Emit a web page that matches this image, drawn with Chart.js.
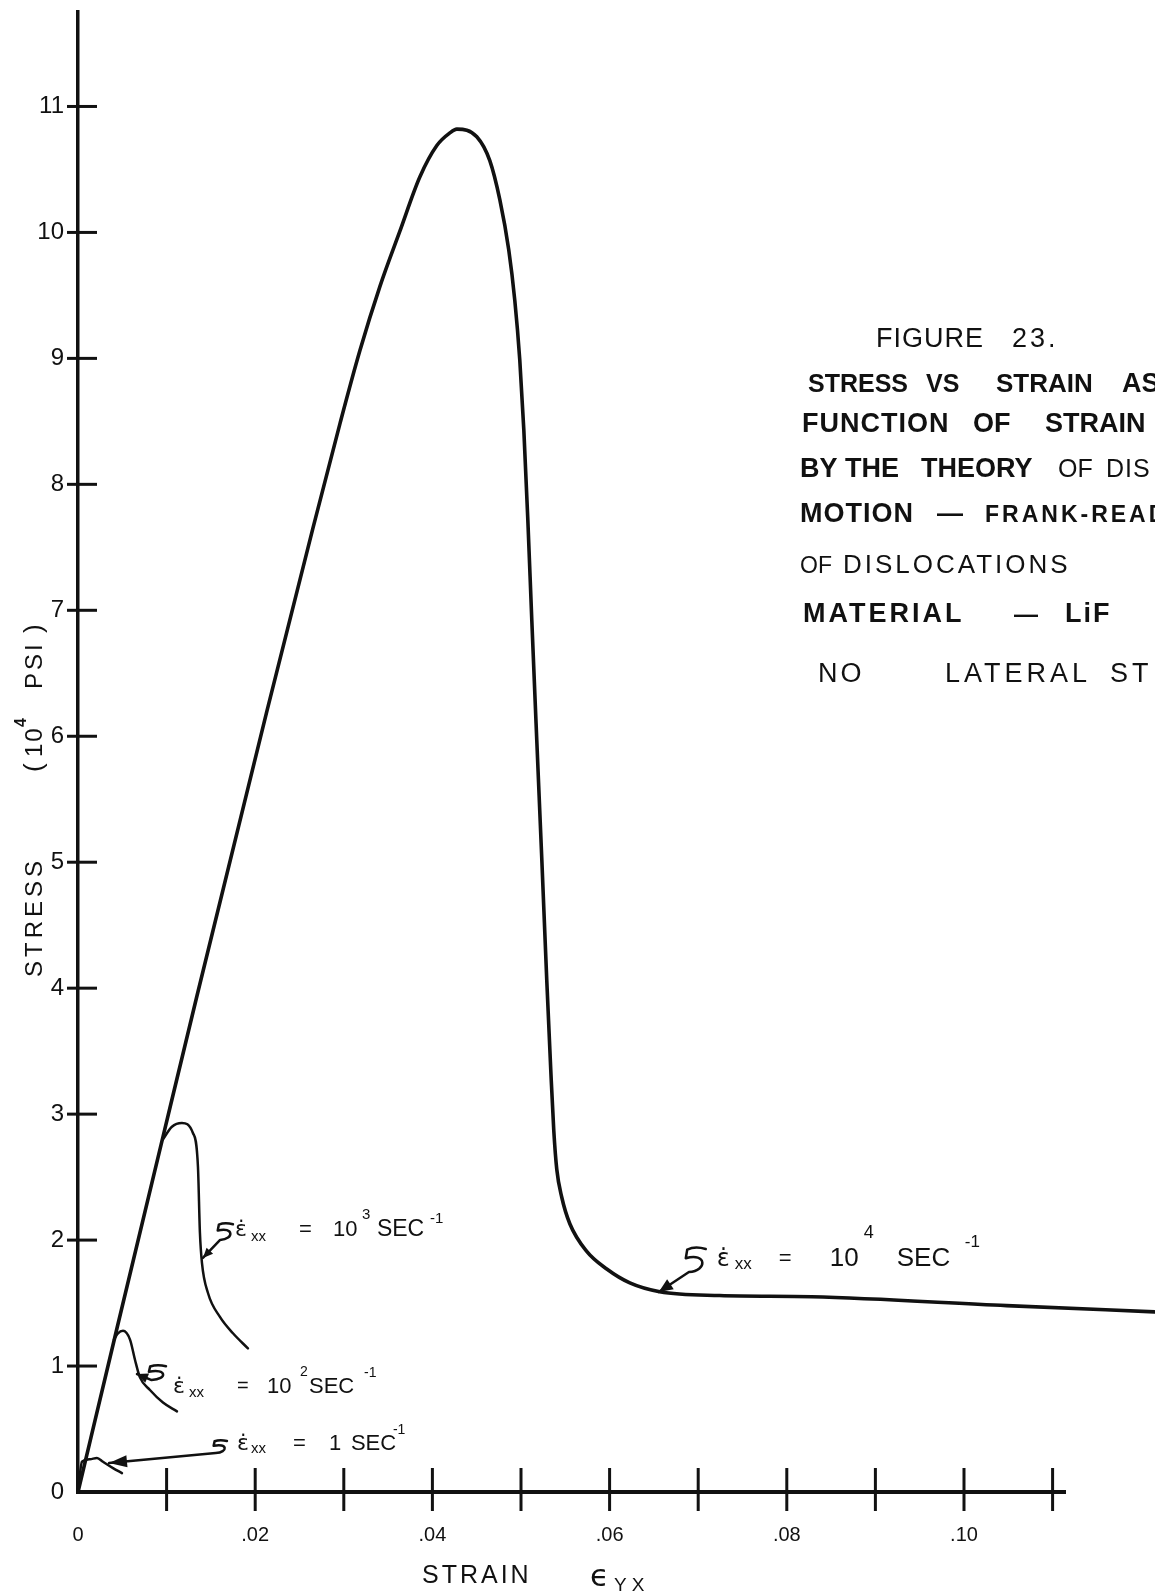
<!DOCTYPE html>
<html>
<head>
<meta charset="utf-8">
<title>Stress vs strain - LiF</title>
<script src="https://cdn.jsdelivr.net/npm/chart.js@4.4.1/dist/chart.umd.min.js"></script>
<style>
  html, body { margin: 0; padding: 0; background: #ffffff; }
  canvas { display: block; }
</style>
</head>
<body>
<canvas id="chart" width="1155" height="1595"></canvas>
<script>
// Strain (in/in) and stress (10^4 psi) along each strain-rate curve
const strainRate1e4 = [0, 0.00440, 0.00959, 0.01343, 0.02132, 0.02651, 0.02956, 0.03181, 0.03407, 0.03633,
  0.03858, 0.04050, 0.04197, 0.04276, 0.04501, 0.04648, 0.04761, 0.04862, 0.04930, 0.04986,
  0.05032, 0.05077, 0.05122, 0.05178, 0.05235, 0.05291, 0.05336, 0.05370, 0.05404, 0.05460,
  0.05551, 0.05742, 0.05968, 0.06228, 0.06566, 0.07243, 0.08281, 0.10481, 0.12150];
const stressRate1e4 = [0, 1.30, 2.82, 3.94, 6.20, 7.65, 8.48, 9.06, 9.57, 10.01,
  10.44, 10.69, 10.79, 10.82, 10.76, 10.57, 10.26, 9.86, 9.46, 8.99,
  8.43, 7.72, 6.92, 5.97, 5.02, 4.06, 3.35, 2.87, 2.56, 2.34,
  2.13, 1.91, 1.77, 1.66, 1.59, 1.56, 1.55, 1.48, 1.43];

const strainRate1e3 = [0.00959, 0.01060, 0.01173, 0.01297, 0.01354, 0.01376, 0.01399, 0.01467, 0.01602, 0.01749, 0.01918];
const stressRate1e3 = [2.80, 2.90, 2.93, 2.85, 2.58, 2.06, 1.82, 1.58, 1.39, 1.26, 1.14];

const strainRate1e2 = [0.00406, 0.00451, 0.00508, 0.00587, 0.00643, 0.00699, 0.00812, 0.00959, 0.01117];
const stressRate1e2 = [1.21, 1.26, 1.28, 1.21, 1.05, 0.91, 0.81, 0.71, 0.64];

const strainRate1 = [0, 0.00045, 0.00135, 0.00214, 0.00282, 0.00395, 0.00496];
const stressRate1 = [0, 0.24, 0.26, 0.27, 0.24, 0.19, 0.15];

// Tick labels
const strainTickLabels = ['0', '', '.02', '', '.04', '', '.06', '', '.08', '', '.10', ''];
const stressTickLabels = ['0', '1', '2', '3', '4', '5', '6', '7', '8', '9', '10', '11'];

const INK = '#111111';
const LATIN = '"Liberation Sans", "DejaVu Sans", sans-serif';
const GREEK = '"DejaVu Sans", "Liberation Sans", sans-serif';

const toPoints = (xs, ys) => xs.map((x, i) => ({ x, y: ys[i] }));
const curve = (xs, ys, width) => ({
  data: toPoints(xs, ys),
  showLine: true,
  borderColor: INK,
  borderWidth: width,
  borderCapStyle: 'round',
  borderJoinStyle: 'round',
  pointRadius: 0,
  pointHoverRadius: 0,
  fill: false,
  cubicInterpolationMode: 'monotone',
  clip: false
});

// Rate labels: anchor in (strain, stress), pieces as [text, dx, dy, size, greek?]
const rateLabels = [
  { at: [0.07209, 1.794], pieces: [
    ['\u03B5\u0307', 0, 0, 24, true], ['xx', 18, 3, 17], ['=', 62, -1, 22],
    ['10', 113, 0, 26], ['4', 147, -28, 18], ['SEC', 180, 0, 26], ['-1', 248, -19, 17]] },
  { at: [0.01771, 2.032], pieces: [
    ['\u03B5\u0307', 0, 0, 22, true], ['xx', 16, 5, 15], ['=', 64, 0, 22],
    ['10', 98, 0, 22], ['3', 127, -17, 15], ['SEC', 142, 0, 23], ['-1', 195, -13, 15]] },
  { at: [0.01072, 0.786], pieces: [
    ['\u03B5\u0307', 0, 0, 22, true], ['xx', 16, 4, 15], ['=', 64, -1, 20],
    ['10', 94, 0, 22], ['2', 127, -17, 14], ['SEC', 136, 0, 22], ['-1', 191, -16, 14]] },
  { at: [0.01794, 0.333], pieces: [
    ['\u03B5\u0307', 0, 0, 22, true], ['xx', 14, 3, 15], ['=', 56, 0, 22],
    ['1', 92, 0, 22], ['SEC', 114, 0, 22], ['-1', 156, -16, 14]] }
];

// Curl leaders: curl box top-left (strain, stress), size in px, arrow tip (strain, stress)
const leaders = [
  { box: [0.06848, 1.945], w: 21, h: 25, tip: [0.06555, 1.588], head: [14, 6] },
  { box: [0.01568, 2.136], w: 16, h: 17, tip: [0.01410, 1.858], head: [10, 4.5] },
  { box: [0.00790, 1.008], w: 18, h: 15, tip: [0.00666, 0.937], head: [11, 5] },
  { box: [0.01523, 0.413], w: 14, h: 13, tip: [0.00350, 0.230], head: [18, 6] }
];

// Caption block: [text, x, baseline, size, weight, letter spacing]
const caption = [
  ['FIGURE', 876, 347, 27, 'normal', 1], ['23.', 1012, 347, 27, 'normal', 3],
  ['STRESS', 808, 392, 25, 'bold', 0], ['VS', 926, 392, 25, 'bold', 0],
  ['STRAIN', 996, 392, 26, 'bold', 0], ['AS', 1122, 392, 27, 'bold', 0],
  ['FUNCTION', 802, 432, 27, 'bold', 1], ['OF', 973, 432, 27, 'bold', 0], ['STRAIN', 1045, 432, 27, 'bold', 0],
  ['BY THE', 800, 477, 27, 'bold', 0], ['THEORY', 921, 477, 27, 'bold', 0],
  ['OF', 1058, 477, 25, 'normal', 0], ['DIS', 1106, 477, 25, 'normal', 1],
  ['MOTION', 800, 522, 27, 'bold', 1], ['\u2014', 937, 522, 26, 'bold', 0],
  ['FRANK-READ', 985, 522, 23, 'bold', 3],
  ['OF', 800, 573, 23, 'normal', 0], ['DISLOCATIONS', 843, 573, 26, 'normal', 3],
  ['MATERIAL', 803, 622, 27, 'bold', 3], ['\u2014', 1014, 622, 24, 'bold', 0], ['LiF', 1065, 622, 27, 'bold', 2],
  ['NO', 818, 682, 27, 'normal', 3], ['LATERAL', 945, 682, 27, 'normal', 4], ['ST', 1110, 682, 27, 'normal', 4]
];

function setFont(ctx, size, weight, family, spacing) {
  ctx.font = `${weight || 'normal'} ${size}px ${family || LATIN}`;
  ctx.letterSpacing = `${spacing || 0}px`;
}

function drawLeader(ctx, x, y, w, h, tx, ty, head) {
  const ex = x + w * 0.2, ey = y + h;
  ctx.beginPath();
  ctx.moveTo(x + w, y + h * 0.08);
  ctx.quadraticCurveTo(x + w * 0.5, y - h * 0.05, x + w * 0.12, y + h * 0.1);
  ctx.lineTo(x + w * 0.05, y + h * 0.45);
  ctx.bezierCurveTo(x + w * 1.05, y + h * 0.2, x + w * 1.1, y + h * 0.95, ex, ey);
  ctx.lineTo(tx, ty);
  ctx.stroke();
  const ang = Math.atan2(ty - ey, tx - ex);
  const [L, W] = head;
  ctx.beginPath();
  ctx.moveTo(tx, ty);
  ctx.lineTo(tx - L * Math.cos(ang) + W * Math.sin(ang), ty - L * Math.sin(ang) - W * Math.cos(ang));
  ctx.lineTo(tx - L * Math.cos(ang) - W * Math.sin(ang), ty - L * Math.sin(ang) + W * Math.cos(ang));
  ctx.closePath();
  ctx.fill();
}

// Tick marks crossing both axes
const crossTicks = {
  id: 'crossTicks',
  afterDraw(chart) {
    const { ctx, scales: { x, y } } = chart;
    const y0 = y.getPixelForValue(0), x0 = x.getPixelForValue(0);
    ctx.save();
    ctx.strokeStyle = INK;
    ctx.lineWidth = 3;
    x.ticks.forEach(t => {
      if (t.value <= 0) return;
      const p = x.getPixelForValue(t.value);
      ctx.beginPath(); ctx.moveTo(p, y0 - 24); ctx.lineTo(p, y0 + 19); ctx.stroke();
    });
    y.ticks.forEach(t => {
      if (t.value <= 0) return;
      const p = y.getPixelForValue(t.value);
      ctx.beginPath(); ctx.moveTo(x0 - 11, p); ctx.lineTo(x0 + 19, p); ctx.stroke();
    });
    ctx.restore();
  }
};

// Axis titles, rate labels with leaders, and the caption block
const annotations = {
  id: 'annotations',
  afterDraw(chart) {
    const { ctx, scales: { x, y } } = chart;
    ctx.save();
    ctx.fillStyle = INK;
    ctx.strokeStyle = INK;
    ctx.textBaseline = 'alphabetic';
    ctx.textAlign = 'left';

    // vertical axis title
    ctx.save();
    ctx.translate(42, 977);
    ctx.rotate(-Math.PI / 2);
    setFont(ctx, 24, 'normal', LATIN, 4); ctx.fillText('STRESS', 0, 0);
    setFont(ctx, 26, 'normal', LATIN, 0); ctx.fillText('(', 205, 0);
    setFont(ctx, 24, 'normal', LATIN, 2); ctx.fillText('10', 220, 0);
    setFont(ctx, 16, 'bold', LATIN, 0); ctx.fillText('4', 250, -16);
    setFont(ctx, 24, 'normal', LATIN, 3); ctx.fillText('PSI', 288, 0);
    setFont(ctx, 26, 'normal', LATIN, 0); ctx.fillText(')', 344, 0);
    ctx.restore();

    // horizontal axis title
    setFont(ctx, 25, 'normal', LATIN, 3); ctx.fillText('STRAIN', 422, 1583);
    setFont(ctx, 31, 'normal', GREEK, 0); ctx.fillText('\u03F5', 590, 1586);
    setFont(ctx, 19, 'normal', LATIN, 5); ctx.fillText('YX', 614, 1591);

    // strain-rate labels
    rateLabels.forEach(lab => {
      const ax = x.getPixelForValue(lab.at[0]), ay = y.getPixelForValue(lab.at[1]);
      lab.pieces.forEach(([t, dx, dy, size, greek]) => {
        setFont(ctx, size, 'normal', greek ? GREEK : LATIN, 0);
        ctx.fillText(t, ax + dx, ay + dy);
      });
    });

    // curl leaders with arrowheads
    ctx.lineWidth = 2.5;
    ctx.lineJoin = 'round';
    ctx.lineCap = 'round';
    leaders.forEach(l => {
      const bx = x.getPixelForValue(l.box[0]), by = y.getPixelForValue(l.box[1]);
      const tx = x.getPixelForValue(l.tip[0]), ty = y.getPixelForValue(l.tip[1]);
      drawLeader(ctx, bx, by, l.w, l.h, tx, ty, l.head);
    });

    // caption
    caption.forEach(([t, cx, cy, size, weight, ls]) => {
      setFont(ctx, size, weight, LATIN, ls);
      ctx.fillText(t, cx, cy);
    });
    ctx.letterSpacing = '0px';
    ctx.restore();
  }
};

const tickFont = (size) => ({ family: LATIN, size, weight: 'normal' });

new Chart(document.getElementById('chart'), {
  type: 'scatter',
  data: {
    datasets: [
      curve(strainRate1e4, stressRate1e4, 3.6),
      curve(strainRate1e3, stressRate1e3, 2.5),
      curve(strainRate1e2, stressRate1e2, 2.5),
      curve(strainRate1, stressRate1, 2.5)
    ]
  },
  options: {
    responsive: false,
    animation: false,
    devicePixelRatio: 1,
    events: [],
    layout: { padding: { top: 12, right: 90, left: 0, bottom: 0 } },
    plugins: { legend: { display: false }, tooltip: { enabled: false } },
    scales: {
      x: {
        type: 'linear', position: 'bottom', min: 0, max: 0.1114,
        afterFit(s) { s.height = 103; s.paddingLeft = 0; s.paddingRight = 0; s.paddingTop = 0; s.paddingBottom = 0; },
        grid: { display: false, drawTicks: false },
        border: { display: true, color: INK, width: 4 },
        ticks: {
          stepSize: 0.01, autoSkip: false, includeBounds: false, maxRotation: 0,
          padding: 31, color: INK, font: tickFont(20),
          callback: (v) => strainTickLabels[Math.round(v * 100)] ?? ''
        }
      },
      y: {
        type: 'linear', position: 'left', min: 0, max: 11.75,
        afterFit(s) { s.width = 78; s.paddingLeft = 0; s.paddingRight = 0; s.paddingTop = 0; s.paddingBottom = 0; },
        grid: { display: false, drawTicks: false },
        border: { display: true, color: INK, width: 3.5 },
        ticks: {
          stepSize: 1, autoSkip: false, includeBounds: false,
          padding: 14, color: INK, font: tickFont(24),
          callback: (v) => stressTickLabels[Math.round(v)] ?? ''
        }
      }
    }
  },
  plugins: [crossTicks, annotations]
});
</script>
</body>
</html>
